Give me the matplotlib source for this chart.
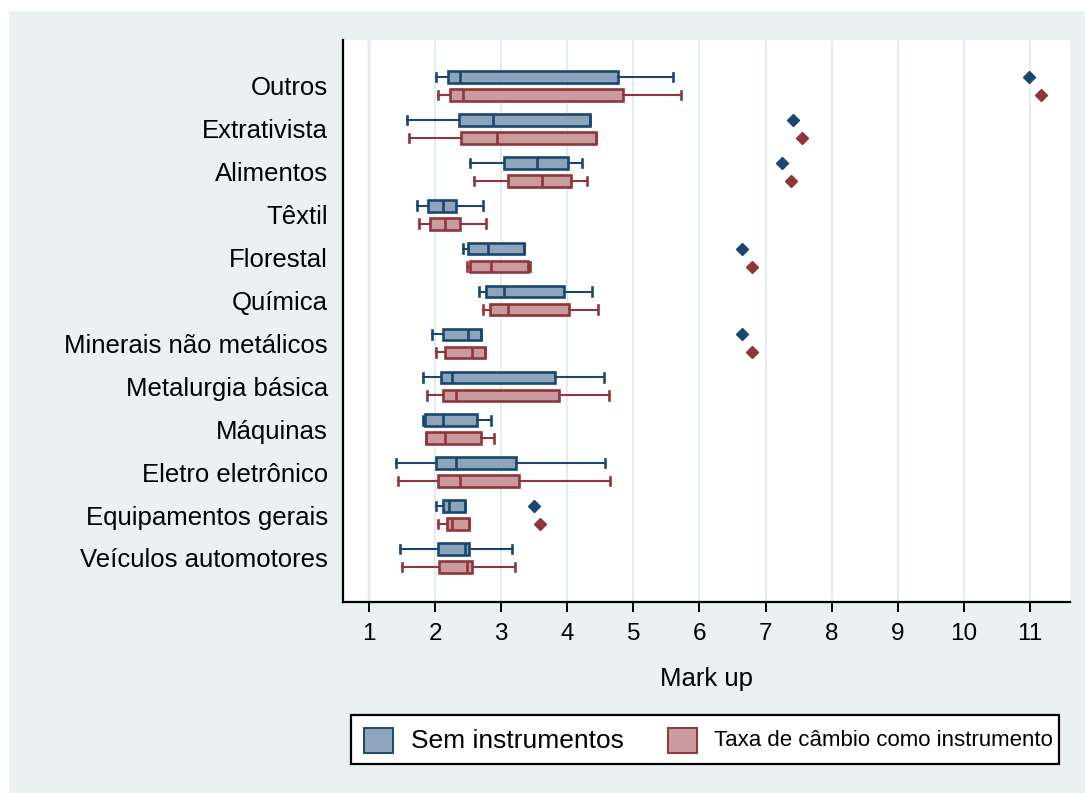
import matplotlib
matplotlib.use("Agg")
import matplotlib.pyplot as plt
from matplotlib.patches import Rectangle

plt.rcParams["font.family"] = ["Liberation Sans", "DejaVu Sans"]

# Sectors, top to bottom
categories = [
    "Outros", "Extrativista", "Alimentos", "Têxtil", "Florestal", "Química",
    "Minerais não metálicos", "Metalurgia básica", "Máquinas",
    "Eletro eletrônico", "Equipamentos gerais", "Veículos automotores",
]
series_names = ["Sem instrumentos", "Taxa de câmbio como instrumento"]

# Mark-up distribution without instruments
sem_lo = [2.01, 1.58, 2.53, 1.72, 2.42, 2.67, 1.96, 1.82, 1.82, 1.41, 2.01, 1.47]
sem_q1 = [2.20, 2.36, 3.05, 1.90, 2.50, 2.77, 2.12, 2.09, 1.85, 2.01, 2.12, 2.04]
sem_med = [2.37, 2.88, 3.54, 2.12, 2.80, 3.05, 2.50, 2.26, 2.12, 2.31, 2.21, 2.45]
sem_q3 = [4.76, 4.35, 4.01, 2.32, 3.35, 3.95, 2.70, 3.81, 2.64, 3.22, 2.45, 2.51]
sem_hi = [5.60, 4.35, 4.22, 2.72, 3.35, 4.38, 2.70, 4.55, 2.84, 4.57, 2.45, 3.16]
sem_out = [[10.98], [7.41], [7.25], [], [6.65], [], [6.65], [], [], [], [3.50], []]

# Mark-up distribution with the exchange rate as instrument
cam_lo = [2.04, 1.61, 2.59, 1.75, 2.48, 2.72, 2.01, 1.88, 1.87, 1.44, 2.04, 1.50]
cam_q1 = [2.23, 2.39, 3.10, 1.93, 2.53, 2.83, 2.15, 2.12, 1.87, 2.04, 2.18, 2.06]
cam_med = [2.42, 2.94, 3.62, 2.15, 2.84, 3.10, 2.56, 2.31, 2.15, 2.37, 2.26, 2.48]
cam_q3 = [4.85, 4.44, 4.06, 2.37, 3.40, 4.03, 2.75, 3.87, 2.70, 3.27, 2.51, 2.56]
cam_hi = [5.72, 4.44, 4.30, 2.77, 3.43, 4.46, 2.75, 4.63, 2.89, 4.65, 2.51, 3.21]
cam_out = [[11.16], [7.55], [7.38], [], [6.79], [], [6.79], [], [], [], [3.58], []]

x_ticks = list(range(1, 12))

NAVY, NAVY_FILL = "#1A476F", "#8DA4BA"
MAROON, MAROON_FILL = "#90353B", "#C99A9E"
BG = "#EAF1F3"

W, H = 1085, 793
fig = plt.figure(figsize=(W / 100, H / 100), dpi=100, facecolor="white")


def fx(px):
    return px / W


def fy(py):
    return 1 - py / H


fig.patches.append(Rectangle((fx(9), 0), 1 - fx(9), fy(11),
                             transform=fig.transFigure, facecolor=BG,
                             edgecolor="none", zorder=-10))

ax = fig.add_axes([fx(343), fy(602), fx(1070) - fx(343), (602 - 40) / H])
ax.set_zorder(1)
ax.set_facecolor("white")


def stats(lo, q1, med, q3, hi, out):
    return [dict(whislo=a, q1=b, med=c, q3=d, whishi=e, fliers=f)
            for a, b, c, d, e, f in zip(lo, q1, med, q3, hi, out)]


n = len(categories)
offset = 0.21
for data, shift, edge, fill in [
    (stats(sem_lo, sem_q1, sem_med, sem_q3, sem_hi, sem_out), -offset, NAVY, NAVY_FILL),
    (stats(cam_lo, cam_q1, cam_med, cam_q3, cam_hi, cam_out), offset, MAROON, MAROON_FILL),
]:
    ax.bxp(data, positions=[i + shift for i in range(n)], widths=0.27,
           capwidths=0.2, orientation="horizontal", patch_artist=True,
           manage_ticks=False,
           boxprops=dict(facecolor=fill, edgecolor=edge, linewidth=1.9),
           whiskerprops=dict(color=edge, linewidth=1.5),
           capprops=dict(color=edge, linewidth=1.9),
           medianprops=dict(color=edge, linewidth=1.9),
           flierprops=dict(marker="D", markersize=6.2, markerfacecolor=edge,
                           markeredgecolor=edge),
           zorder=3)

ax.set_xlim(0.607, 11.605)
ax.set_ylim(12.026, -1.072)
ax.set_xticks(x_ticks)
ax.set_xticklabels([str(t) for t in x_ticks], fontsize=17.5)
ax.grid(axis="x", color="#E3ECF0", linewidth=1.5, zorder=0)
ax.axvline(1, color="#A5A5A5", linewidth=1.6, zorder=1)
ax.set_yticks(range(n))
ax.set_yticklabels(categories, fontsize=18.5)
ax.tick_params(axis="y", length=0, pad=11)
ax.tick_params(axis="x", length=7, width=1.4, pad=8, direction="out")
for side in ("top", "right"):
    ax.spines[side].set_visible(False)
for side in ("left", "bottom"):
    ax.spines[side].set_color("black")
    ax.spines[side].set_linewidth(1.6)
ax.set_xlabel("Mark up", fontsize=18.5, labelpad=16)

# Legend panel
fig.patches.append(Rectangle((fx(351), fy(764)), fx(1059) - fx(351), (764 - 715) / H,
                             transform=fig.transFigure, facecolor="white",
                             edgecolor="black", linewidth=1.6, zorder=2))
for (x0, txt_x, size, edge, fill), name in zip(
        [(364, 411, 19, NAVY, NAVY_FILL), (668, 714, 16, MAROON, MAROON_FILL)],
        series_names):
    fig.patches.append(Rectangle((fx(x0), fy(753)), 29 / W, 25 / H,
                                 transform=fig.transFigure, facecolor=fill,
                                 edgecolor=edge, linewidth=1.4, zorder=3))
    fig.text(fx(txt_x), fy(741), name, fontsize=size, va="center", ha="left",
             zorder=4)

fig.savefig("out.png", dpi=100, facecolor=fig.get_facecolor())
